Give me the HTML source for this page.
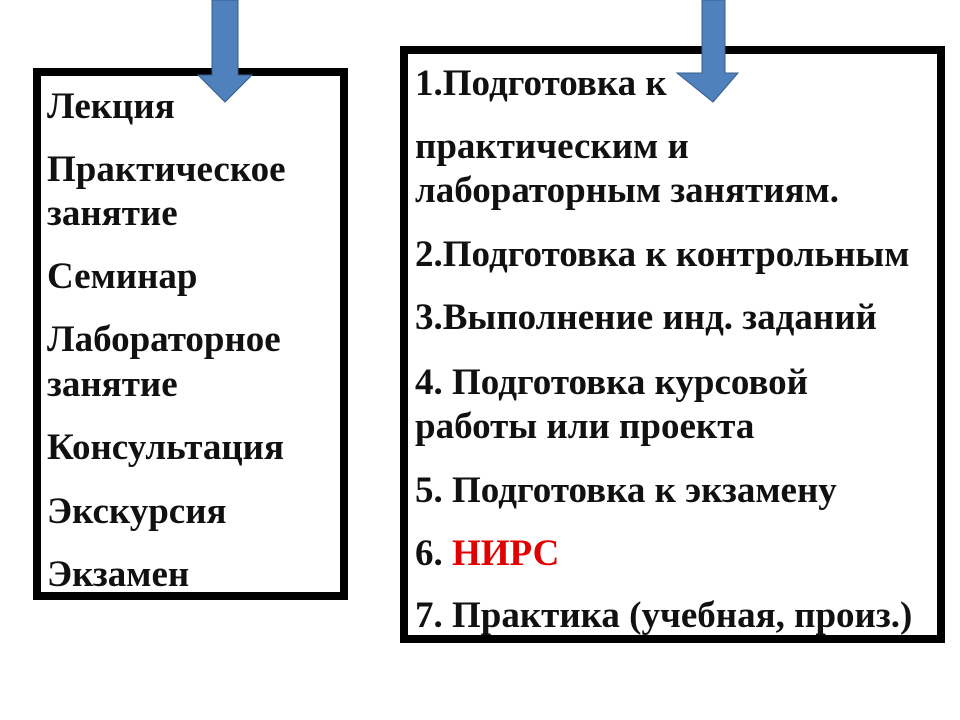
<!DOCTYPE html>
<html><head><meta charset="utf-8"><style>
body{margin:0;width:960px;height:720px;background:#fff;position:relative;overflow:hidden;font-family:"Liberation Serif",serif;font-weight:bold;font-size:37px;color:#111}
.box{position:absolute;border:8px solid #000;box-sizing:border-box;background:#fff}
.t{position:absolute;line-height:44px;white-space:nowrap}
</style></head><body>
<div class="box" style="left:33px;top:68px;width:315px;height:532px"></div>
<div class="box" style="left:400px;top:46px;width:545px;height:597px"></div>
<div class="t" style="left:47px;top:85px">Лекция</div>
<div class="t" style="left:47px;top:148px">Практическое</div>
<div class="t" style="left:47px;top:192px">занятие</div>
<div class="t" style="left:47px;top:255px">Семинар</div>
<div class="t" style="left:47px;top:318px">Лабораторное</div>
<div class="t" style="left:47px;top:363px">занятие</div>
<div class="t" style="left:47px;top:426px">Консультация</div>
<div class="t" style="left:47px;top:490px">Экскурсия</div>
<div class="t" style="left:47px;top:553px">Экзамен</div>
<div class="t" style="left:415px;top:62px">1.Подготовка к</div>
<div class="t" style="left:415px;top:125px">практическим и</div>
<div class="t" style="left:415px;top:169px">лабораторным занятиям.</div>
<div class="t" style="left:415px;top:233px">2.Подготовка к контрольным</div>
<div class="t" style="left:415px;top:296px">3.Выполнение инд. заданий</div>
<div class="t" style="left:415px;top:361px">4. Подготовка курсовой</div>
<div class="t" style="left:415px;top:405px">работы или проекта</div>
<div class="t" style="left:415px;top:469px">5. Подготовка к экзамену</div>
<div class="t" style="left:415px;top:532px">6. <span style="color:#e00000">НИРС</span></div>
<div class="t" style="left:415px;top:594px">7. Практика (учебная, произ.)</div>
<svg width="960" height="720" style="position:absolute;left:0;top:0">
<polygon points="212,0 238,0 238,75 252,75 225,102 198,75 212,75" fill="#4f81bd" stroke="#385d8a" stroke-width="1"/>
<polygon points="702,0 725,0 725,73 738,73 713,102 677,73 702,73" fill="#4f81bd" stroke="#385d8a" stroke-width="1"/>
</svg>
</body></html>
